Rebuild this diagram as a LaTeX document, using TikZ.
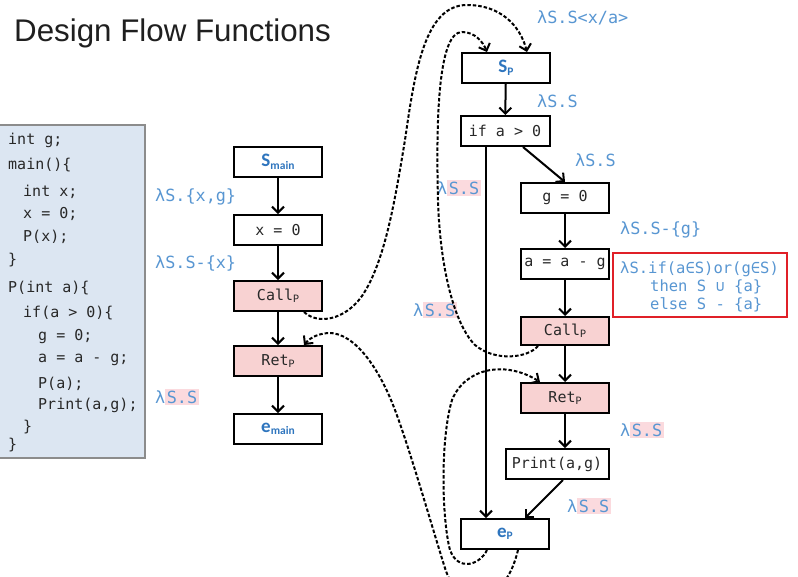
\documentclass[tikz,border=0pt]{standalone}
\usepackage{fontspec}
\setmainfont{Liberation Sans}
\newfontfamily\mono{DejaVu Sans Mono}
\newfontfamily\cali{Carlito}
\usetikzlibrary{arrows.meta}
\definecolor{lblue}{RGB}{88,150,210}
\definecolor{nblue}{RGB}{46,117,190}
\definecolor{pinkf}{RGB}{248,210,210}
\definecolor{hl}{RGB}{251,218,222}
\definecolor{codebg}{RGB}{220,230,242}
\definecolor{codebd}{RGB}{140,140,140}
\definecolor{redbox}{RGB}{224,32,40}
\definecolor{codetx}{RGB}{40,40,40}
\newcommand\mysub[1]{\raisebox{-2.5pt}{\cali\fontsize{11.5}{11.5}\selectfont #1}}
\newcommand\hlss{{\setlength\fboxsep{1.5pt}\colorbox{hl}{S.S}}}
\newcommand\bluelab[1]{{\cali\bfseries\fontsize{19}{19}\selectfont\color{nblue}#1}}
\begin{document}
\begin{tikzpicture}[x=1pt,y=-1pt,
  box/.style={draw, line width=2pt, minimum width=88pt, minimum height=30pt, inner sep=0pt,
    font=\mono\fontsize{15}{15}\selectfont, text=codetx, fill=white},
  callbox/.style={box, fill=pinkf},
  lab/.style={font=\mono\fontsize{16.8}{16.8}\selectfont, text=lblue, inner sep=0pt, anchor=west},
  rlab/.style={font=\mono\fontsize{15.5}{15.5}\selectfont, text=lblue, inner sep=0pt, anchor=west},
  code/.style={font=\mono\fontsize{15}{15}\selectfont, text=codetx, inner sep=0pt, anchor=west},
  flow/.style={line width=2pt, -{Straight Barb[length=6pt,width=12pt]}},
  dflow/.style={flow, dash pattern=on 3.5pt off 2pt}]
\clip (0,0) rectangle (798,576);
\fill[white] (0,0) rectangle (798,576);

% title
\node[anchor=base west, inner sep=0pt, font=\fontsize{31.3}{31.3}\selectfont, text=black!88] (title) at (14,41) {Design Flow Functions};

% code box
\draw[fill=codebg, draw=codebd, line width=1.2pt] (-2,125) rectangle (145,458);
\node[code] (c1) at (8,140) {int g;};
\node[code] (c2) at (8,165) {main()\{};
\node[code] (c3) at (23,192) {int x;};
\node[code] (c4) at (23,214) {x = 0;};
\node[code] (c5) at (23,237) {P(x);};
\node[code] (c6) at (8,260) {\}};
\node[code] (c7) at (8,288) {P(int a)\{};
\node[code] (c8) at (23,313) {if(a > 0)\{};
\node[code] (c9) at (38,337) {g = 0;};
\node[code] (c10) at (38,360) {a = a - g;};
\node[code] (c11) at (38,384) {P(a);};
\node[code] (c12) at (38,405) {Print(a,g);};
\node[code] (c13) at (23,427) {\}};
\node[code] (c14) at (8,445) {\}};

% main column
\node[box] (smain) at (278,162) {\bluelab{S\mysub{main}}};
\node[box] (x0) at (278,230) {x = 0};
\node[callbox] (callm) at (278,296) {Call\mysub{P}};
\node[callbox] (retm) at (278,361) {Ret\mysub{P}};
\node[box] (emain) at (278,429) {\bluelab{e\mysub{main}}};

\draw[flow] (smain) -- (x0);
\draw[flow] (x0) -- (callm);
\draw[flow] (callm) -- (retm);
\draw[flow] (retm) -- (emain);

\node[lab] (l1) at (155,197) {λS.\{x,g\}};
\node[lab] (l2) at (155,263) {λS.S-\{x\}};
\node[lab] (l3) at (155,397) {λ\hlss};

% P column
\node[box] (sp) at (506,68) {\bluelab{S\mysub{P}}};
\node[box, minimum width=89pt] (ifn) at (505,131) {if a > 0};
\node[box] (g0) at (565,198) {g = 0};
\node[box] (aag) at (565,264) {a = a - g};
\node[callbox, minimum height=28pt] (callp) at (565,331) {Call\mysub{P}};
\node[callbox] (retp) at (565,398) {Ret\mysub{P}};
\node[box, minimum width=103pt] (print) at (557,464) {Print(a,g)};
\node[box] (ep) at (505,534) {\bluelab{e\mysub{P}}};

\draw[flow] (sp) -- (ifn);
\draw[flow] ([xshift=18pt]ifn.south) -- (g0.north);
\draw[flow] (g0) -- (aag);
\draw[flow] (aag) -- (callp);
\draw[flow] (callp) -- (retp);
\draw[flow] (retp.south) -- (retp.south |- print.north);
\draw[flow] ([xshift=6pt]print.south) -- ([xshift=20pt]ep.north);
\draw[flow] ([xshift=-19pt]ifn.south) -- ([xshift=-19pt]ep.north);

\node[lab] (l4) at (537,18) {λS.S<x/a>};
\node[lab] (l5) at (537,101) {λS.S};
\node[lab] (l6) at (575,160) {λS.S};
\node[lab] (l7) at (437,188) {λ\hlss};
\node[lab] (l8) at (620,230) {λS.S-\{g\}};
\node[lab] (l9) at (413,310) {λ\hlss};
\node[lab] (l10) at (620,430) {λ\hlss};
\node[lab] (l11) at (567,506) {λ\hlss};

\draw[draw=redbox, line width=1.8pt] (613,253) rectangle (787,317);
\node[rlab] (r1) at (620,269) {λS.if(a∈S)or(g∈S)};
\node[rlab] (r2) at (650,287) {then S ∪ \{a\}};
\node[rlab] (r3) at (650,305) {else S - \{a\}};

% dashed interprocedural edges
\draw[dflow] ([xshift=-19pt]callm.south east) .. controls (318,325) and (345,320) .. (362,296)
  .. controls (385,262) and (395,200) .. (405,140)
  .. controls (415,70) and (425,5) .. (467,5)
  .. controls (500,5) and (520,25) .. ([xshift=21pt]sp.north);
\draw[dflow] ([xshift=-27pt]callp.south) .. controls (528,358) and (495,362) .. (475,345)
  .. controls (455,325) and (440,270) .. (438,200)
  .. controls (436,120) and (438,32) .. (462,32)
  .. controls (475,32) and (483,42) .. ([xshift=-19pt]sp.north);
\draw[dflow] ([xshift=-18pt]ep.south) .. controls (480,565) and (458,572) .. (450,550)
  .. controls (442,520) and (440,440) .. (452,400)
  .. controls (465,368) and (505,360) .. ([xshift=-25pt]retp.north);
\draw[dflow] ([xshift=13pt]ep.south) .. controls (512,575) and (500,595) .. (478,595)
  .. controls (458,595) and (450,585) .. (444,565)
  .. controls (430,520) and (410,450) .. (395,410)
  .. controls (380,370) and (355,332) .. (328,333)
  .. controls (315,334) and (308,340) .. ([xshift=-19pt]retm.north east);
\end{tikzpicture}
\end{document}
